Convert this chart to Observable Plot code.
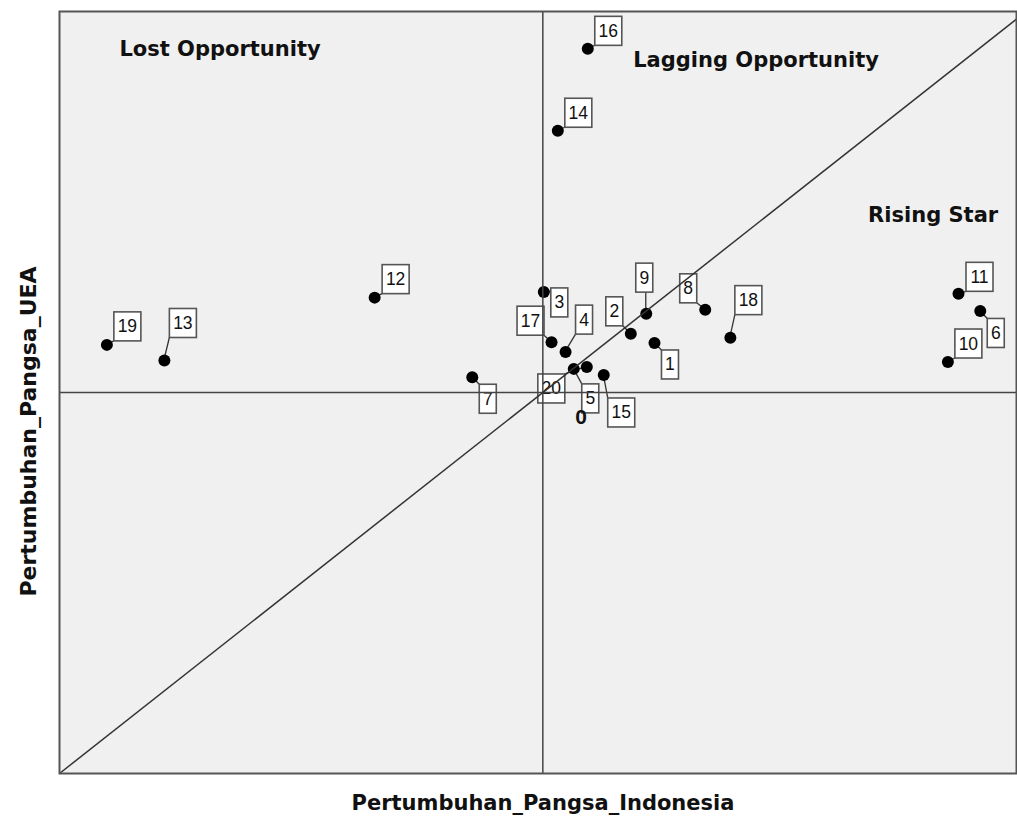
<!DOCTYPE html>
<html>
<head>
<meta charset="utf-8">
<script src="https://cdn.jsdelivr.net/npm/d3@7"></script>
<script src="https://cdn.jsdelivr.net/npm/@observablehq/plot@0.6"></script>
<style>
  body { margin: 0; background: #fff; }
  svg { display: block; }
</style>
</head>
<body>
<div id="chart"></div>
<script>
// ---- data ----
const productIds = ["1","2","3","4","5","6","7","8","9","10","11","12","13","14","15","16","17","18","19","20"];
const growthIndonesia = [0.231, 0.182, 0.002, 0.047, 0.064, 0.905, -0.146, 0.336, 0.214, 0.838, 0.860, -0.348, -0.783, 0.031, 0.126, 0.093, 0.018, 0.388, -0.902, 0.091];
const growthUEA       = [0.130, 0.154, 0.264, 0.106, 0.062, 0.214, 0.040, 0.217, 0.207, 0.080, 0.259, 0.249, 0.084, 0.687, 0.046, 0.902, 0.132, 0.144, 0.125, 0.067];

const quadrantNames = ["Lost Opportunity", "Lagging Opportunity", "Rising Star"];
const quadrantX = [-0.876, 0.187, 0.673];
const quadrantY = [0.884, 0.855, 0.448];

const xDomain = [-1, 0.98];
const yDomain = [-1, 1];

// ---- layout (label box offsets in px from each point) ----
const labelDx = [16, -16, 16, 19, 17, 16, 16, -16.5, -1.5, 21, 21.5, 21.5, 19, 21, 18, 21, -20.5, 18.5, 21, -35];
const labelDy = [22, -22, 11, -32, 30, 22.5, 22, -21, -35.5, -18, -16.5, -18, -37, -17.5, 38, -17.5, -21, -37, -18, 22];

const points = productIds.map((id, i) => ({id, x: growthIndonesia[i], y: growthUEA[i], dx: labelDx[i], dy: labelDy[i]}));
const quadrants = quadrantNames.map((name, i) => ({name, x: quadrantX[i], y: quadrantY[i]}));

function labelBoxes(index, scales) {
  const g = d3.create("svg:g");
  for (const i of index) {
    const d = points[i];
    const X = scales.x(d.x), Y = scales.y(d.y);
    const w = 7 + 10 * d.id.length, h = 29;
    const cx = X + d.dx, cy = Y + d.dy;
    const x0 = cx - w / 2, y0 = cy - h / 2;
    const nx = Math.max(x0, Math.min(X, x0 + w));
    const ny = Math.max(y0, Math.min(Y, y0 + h));
    g.append("line").attr("x1", X).attr("y1", Y).attr("x2", nx).attr("y2", ny)
      .attr("stroke", "#333").attr("stroke-width", 1.3);
    g.append("rect").attr("x", x0).attr("y", y0).attr("width", w).attr("height", h)
      .attr("fill", "white").attr("stroke", "#555").attr("stroke-width", 1.6);
    g.append("text").attr("x", cx).attr("y", cy + 6).attr("text-anchor", "middle")
      .attr("font-family", "Liberation Sans, Arial, sans-serif").attr("font-size", 17.5)
      .attr("fill", "#111").text(d.id);
  }
  return g.node();
}

const chart = Plot.plot({
  width: 1017,
  height: 816,
  marginLeft: 59,
  marginTop: 11,
  marginRight: 1,
  marginBottom: 43,
  style: {background: "white", fontFamily: "DejaVu Sans, sans-serif", color: "#111"},
  x: {domain: xDomain, axis: null},
  y: {domain: yDomain, axis: null},
  marks: [
    Plot.frame({fill: "#f0f0f0"}),
    Plot.text(quadrants, {x: "x", y: "y", text: "name", textAnchor: "start", lineAnchor: "bottom",
      fontSize: 21, fontWeight: "bold", fill: "#111"}),
    Plot.dot(points, {x: "x", y: "y", render: labelBoxes}),
    Plot.dot(points, {x: "x", y: "y", r: 6, fill: "black", stroke: "none"}),
    Plot.text(["0"], {x: 0.079, y: -0.064, text: d => d, fontSize: 21, fontWeight: "bold",
      fontFamily: "Liberation Sans, Arial, sans-serif", fill: "#111"}),
    Plot.ruleX([0], {stroke: "#444", strokeWidth: 1.5}),
    Plot.ruleY([0], {stroke: "#444", strokeWidth: 1.5}),
    Plot.link([xDomain], {x1: d => d[0], y1: d => d[0], x2: d => d[1], y2: d => d[1],
      stroke: "#333", strokeWidth: 1.5}),
    Plot.frame({stroke: "#555", strokeWidth: 2}),
    Plot.text(["Pertumbuhan_Pangsa_Indonesia"], {frameAnchor: "bottom", text: d => d, dx: 5, dy: 36,
      textAnchor: "middle", lineAnchor: "bottom", fontSize: 21, fontWeight: "bold", fill: "#111"}),
    Plot.text(["Pertumbuhan_Pangsa_UEA"], {frameAnchor: "left", text: d => d, rotate: -90, dx: -24, dy: 39,
      textAnchor: "middle", lineAnchor: "bottom", fontSize: 22, fontWeight: "bold", fill: "#111"})
  ]
});
document.getElementById("chart").appendChild(chart);
</script>
</body>
</html>
